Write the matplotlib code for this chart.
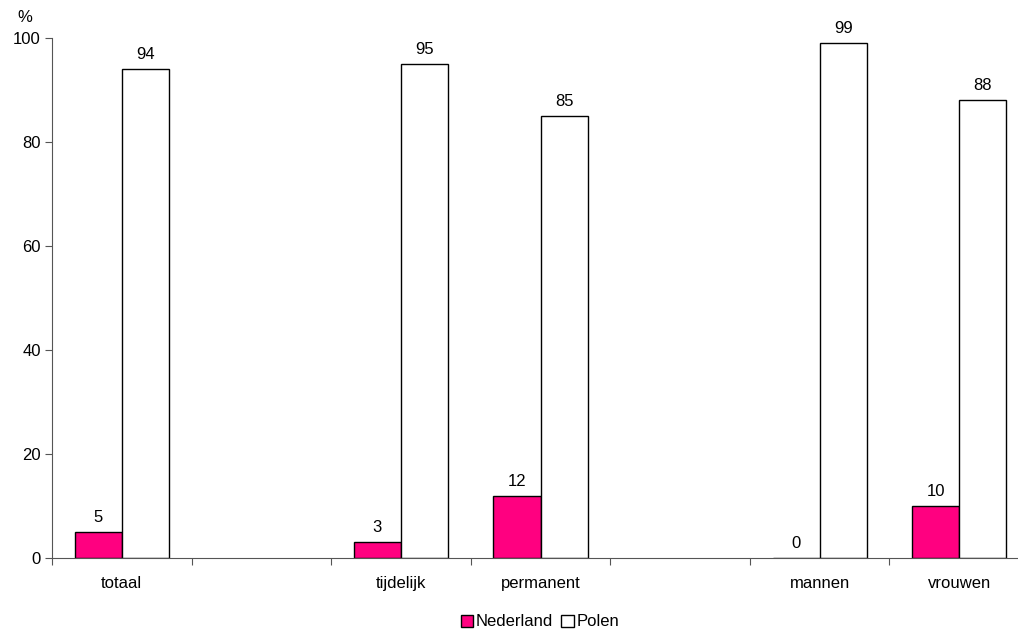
import matplotlib
matplotlib.use("Agg")
import matplotlib.pyplot as plt
import numpy as np
from matplotlib.patches import Patch

categories = ["totaal", "", "tijdelijk", "permanent", "", "mannen", "vrouwen"]
nederland = [5, None, 3, 12, None, 0, 10]
polen = [94, None, 95, 85, None, 99, 88]
yticks = [0, 20, 40, 60, 80, 100]

plt.rcParams['font.family'] = ['Liberation Sans', 'DejaVu Sans']
FS = 12
fig = plt.figure(figsize=(10.18, 6.34), dpi=100)
ax = fig.add_axes([52/1018, 1-558/634, (1029-52)/1018, (558-38)/634])

x = np.arange(len(categories))
w = 0.337
for i, (n, p) in enumerate(zip(nederland, polen)):
    if n is None:
        continue
    ax.bar(x[i] - w/2, n, width=w, color='#FF0080', edgecolor='black', linewidth=1)
    ax.bar(x[i] + w/2, p, width=w, color='white', edgecolor='black', linewidth=1)
    ax.annotate(f"{n}", (x[i] - w/2, n), xytext=(0, 5), textcoords='offset points',
                ha='center', va='bottom', fontsize=FS)
    ax.annotate(f"{p}", (x[i] + w/2, p), xytext=(0, 5), textcoords='offset points',
                ha='center', va='bottom', fontsize=FS)

ax.set_xlim(-0.5, len(categories) - 0.5)
ax.set_ylim(0, 100)
ax.set_yticks(yticks)
ax.set_xticks(np.arange(len(categories) + 1) - 0.5, minor=False)
ax.set_xticklabels([])
ax.set_xticks(x, minor=True)
ax.set_xticklabels(categories, minor=True)
ax.tick_params(axis='x', which='minor', length=0, pad=13, labelsize=FS)
ax.tick_params(axis='x', which='major', length=5, direction='out', color='#555555')
ax.tick_params(axis='y', length=5, direction='out', labelsize=FS, color='#555555', pad=3)
for s in ['top', 'right']:
    ax.spines[s].set_visible(False)
ax.spines['left'].set_color('#555555')
ax.spines['bottom'].set_color('#555555')
fig.text(25/1018, 1-18/634, "%", ha='center', va='center', fontsize=FS)

handles = [Patch(facecolor='#FF0080', edgecolor='black', label='Nederland'),
           Patch(facecolor='white', edgecolor='black', label='Polen')]
fig.legend(handles=handles, loc='center', bbox_to_anchor=(540/1018, 1-622/634), ncol=2,
           frameon=False, fontsize=FS, handlelength=0.75, handleheight=0.75,
           handletextpad=0.15, columnspacing=0.5)

fig.savefig("out.png", dpi=100)
